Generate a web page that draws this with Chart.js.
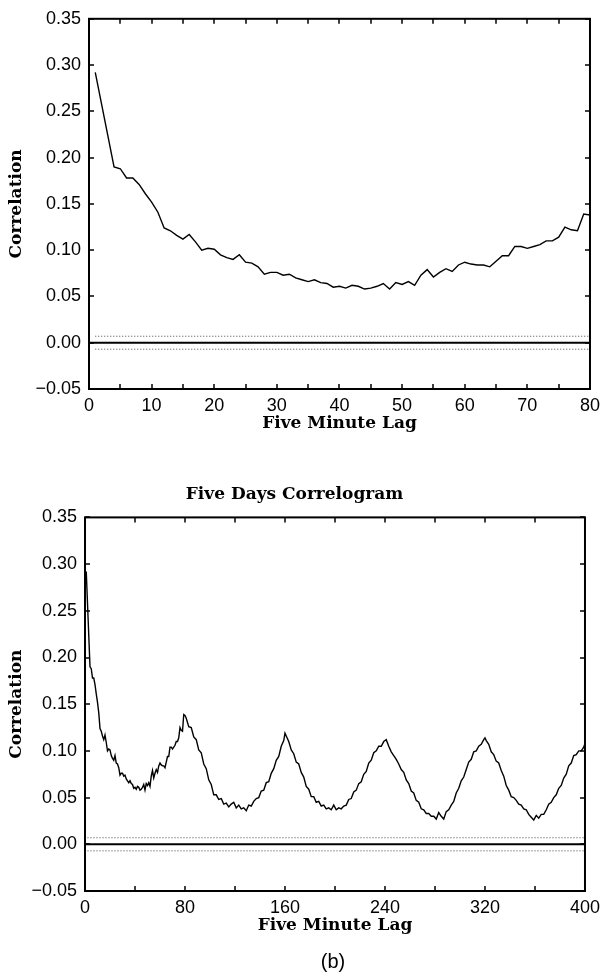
<!DOCTYPE html>
<html>
<head>
<meta charset="utf-8">
<script src="https://cdn.jsdelivr.net/npm/chart.js@4.4.0/dist/chart.umd.min.js"></script>
<style>
  body { margin: 0; background: #fff; width: 606px; height: 975px; position: relative; overflow: hidden; }
  #chartA { position: absolute; left: 0; top: 0; }
  #chartB { position: absolute; left: 0; top: 460px; }
  #panel { position: absolute; left: 30px; top: 950px; width: 606px; text-align: center;
           font: 20px "Liberation Sans", Arial, sans-serif; color: #000; }
</style>
</head>
<body>
<canvas id="chartA" width="606" height="445"></canvas>
<canvas id="chartB" width="606" height="515"></canvas>
<div id="panel">(b)</div>
<script>
// correlation at five minute lags 1..80
const corrFirst80 = [0.292, 0.258, 0.224, 0.190, 0.188, 0.178, 0.178, 0.171, 0.161, 0.152,
  0.141, 0.124, 0.121, 0.116, 0.112, 0.117, 0.109, 0.100, 0.102, 0.101,
  0.095, 0.092, 0.090, 0.095, 0.087, 0.086, 0.082, 0.074, 0.076, 0.076,
  0.073, 0.074, 0.070, 0.068, 0.066, 0.068, 0.065, 0.064, 0.060, 0.061,
  0.059, 0.062, 0.061, 0.058, 0.059, 0.061, 0.064, 0.058, 0.065, 0.063,
  0.066, 0.062, 0.073, 0.079, 0.071, 0.076, 0.080, 0.077, 0.084, 0.087,
  0.085, 0.084, 0.084, 0.082, 0.088, 0.094, 0.094, 0.104, 0.104, 0.102,
  0.104, 0.106, 0.110, 0.110, 0.114, 0.125, 0.122, 0.121, 0.139, 0.138];
const lagFirst80 = corrFirst80.map((v, i) => i + 1);

// lags 81..400 for the five days correlogram
const lagTail = [81, 83, 85, 87, 89, 91, 93, 95, 97, 99, 101, 103, 105, 107, 109, 111, 113, 115, 117, 119,
  121, 123, 125, 127, 129, 131, 133, 135, 137, 139, 141, 143, 145, 147, 149, 151, 153, 155, 157, 159, 160,
  161, 163, 165, 167, 169, 171, 173, 175, 177, 179, 181, 183, 185, 187, 189, 191, 193, 195, 197, 199,
  201, 203, 205, 207, 209, 211, 213, 215, 217, 219, 221, 223, 225, 227, 229, 231, 233, 235, 237, 239, 241,
  243, 245, 247, 249, 251, 253, 255, 257, 259, 261, 263, 265, 267, 269, 271, 273, 275, 277, 279,
  281, 283, 285, 287, 289, 291, 293, 295, 297, 299, 301, 303, 305, 307, 309, 311, 313, 315, 317, 319, 320,
  321, 323, 325, 327, 329, 331, 333, 335, 337, 339, 341, 343, 345, 347, 349, 351, 353, 355, 357, 359,
  361, 363, 365, 367, 369, 371, 373, 375, 377, 379, 381, 383, 385, 387, 389, 391, 393, 395, 397, 399, 400];
const corrTail = [0.135, 0.126, 0.125, 0.115, 0.112, 0.101, 0.098, 0.086, 0.081, 0.069, 0.064, 0.053, 0.053, 0.048, 0.049, 0.043, 0.044, 0.040, 0.043, 0.045,
  0.039, 0.042, 0.038, 0.039, 0.036, 0.042, 0.041, 0.046, 0.049, 0.050, 0.057, 0.058, 0.066, 0.067, 0.076, 0.081, 0.090, 0.094, 0.105, 0.111, 0.119,
  0.116, 0.110, 0.101, 0.097, 0.088, 0.086, 0.077, 0.072, 0.062, 0.059, 0.051, 0.051, 0.045, 0.046, 0.041, 0.042, 0.038, 0.039, 0.037, 0.042,
  0.037, 0.039, 0.038, 0.041, 0.042, 0.048, 0.049, 0.056, 0.058, 0.065, 0.067, 0.075, 0.078, 0.087, 0.090, 0.098, 0.100, 0.105, 0.105, 0.110, 0.112,
  0.105, 0.099, 0.095, 0.091, 0.086, 0.080, 0.077, 0.069, 0.065, 0.057, 0.055, 0.047, 0.045, 0.038, 0.037, 0.033, 0.033, 0.030, 0.030,
  0.027, 0.034, 0.030, 0.027, 0.035, 0.037, 0.042, 0.046, 0.055, 0.060, 0.068, 0.072, 0.080, 0.088, 0.091, 0.099, 0.100, 0.105, 0.107, 0.112, 0.114,
  0.111, 0.107, 0.099, 0.096, 0.089, 0.087, 0.079, 0.073, 0.063, 0.058, 0.051, 0.050, 0.047, 0.043, 0.042, 0.038, 0.037, 0.032, 0.029, 0.026,
  0.031, 0.028, 0.032, 0.032, 0.037, 0.043, 0.045, 0.050, 0.053, 0.060, 0.063, 0.071, 0.075, 0.084, 0.087, 0.095, 0.096, 0.100, 0.100, 0.104, 0.108];

const bandLimit = 0.007;   // dotted significance band
const yMin = -0.05, yMax = 0.35, yStep = 0.05;

const tickFont = { family: '"Liberation Sans", Arial, sans-serif', size: 18 };
const titleFont = { family: '"DejaVu Serif", serif', size: 17, weight: 'bold' };

function pts(xs, ys) { return xs.map((x, i) => ({ x: x, y: ys[i] })); }

function fmtTick(v) {
  if (Math.abs(v) < 1e-9) return '0.00';
  return v < 0 ? '\u2212' + Math.abs(v).toFixed(2) : v.toFixed(2);
}

// inward tick marks on all four sides plus the box
const frameTicks = {
  id: 'frameTicks',
  afterDatasetsDraw(chart, args, opts) {
    const { ctx, chartArea: a, scales: { x, y } } = chart;
    ctx.save();
    ctx.strokeStyle = '#000';
    ctx.lineWidth = 1.5;
    ctx.beginPath();
    for (let v = x.min; v <= x.max; v += opts.xStep) {
      const px = Math.round(x.getPixelForValue(v));
      ctx.moveTo(px, a.bottom); ctx.lineTo(px, a.bottom - 5);
      ctx.moveTo(px, a.top); ctx.lineTo(px, a.top + 5);
    }
    y.ticks.forEach(t => {
      const py = Math.round(y.getPixelForValue(t.value));
      ctx.moveTo(a.left, py); ctx.lineTo(a.left + 5, py);
      ctx.moveTo(a.right, py); ctx.lineTo(a.right - 5, py);
    });
    ctx.stroke();
    ctx.lineWidth = 2;
    ctx.strokeRect(a.left, a.top, a.right - a.left, a.bottom - a.top);
    ctx.restore();
  }
};

function makeChart(id, cfg) {
  const xMax = cfg.xMax;
  return new Chart(document.getElementById(id), {
    type: 'line',
    data: {
      datasets: [
        { data: cfg.series, borderColor: '#000', borderWidth: 1.4, pointRadius: 0, tension: 0 },
        { data: pts([0, xMax], [0, 0]), borderColor: '#000', borderWidth: 2, pointRadius: 0 },
        { data: pts([cfg.bandStart, xMax], [bandLimit, bandLimit]), borderColor: '#444', borderWidth: 1, borderDash: [1, 2], pointRadius: 0 },
        { data: pts([cfg.bandStart, xMax], [-bandLimit, -bandLimit]), borderColor: '#444', borderWidth: 1, borderDash: [1, 2], pointRadius: 0 }
      ]
    },
    options: {
      responsive: false,
      animation: false,
      events: [],
      layout: { padding: cfg.padding },
      plugins: {
        legend: { display: false },
        tooltip: { enabled: false },
        title: cfg.title ? { display: true, text: cfg.title, color: '#000', font: titleFont, padding: { top: 4, bottom: 13 } } : { display: false },
        frameTicks: { xStep: cfg.minorStep }
      },
      scales: {
        x: {
          type: 'linear', min: 0, max: xMax,
          grid: { display: false, drawTicks: false },
          border: { display: false },
          ticks: { stepSize: cfg.majorStep, color: '#000', font: tickFont, padding: 6, maxRotation: 0 },
          title: { display: true, text: 'Five Minute Lag', color: '#000', font: titleFont, padding: { top: 0, bottom: 5 } },
          afterFit(s) { s.height = 50; }
        },
        y: {
          min: yMin, max: yMax,
          grid: { display: false, drawTicks: false },
          border: { display: false },
          ticks: { stepSize: yStep, color: '#000', font: tickFont, padding: 8, callback: fmtTick },
          title: { display: true, text: 'Correlation', color: '#000', font: titleFont, padding: { top: 6, bottom: 0 } },
          afterFit(s) { s.width = cfg.yWidth; }
        }
      }
    },
    plugins: [frameTicks]
  });
}

makeChart('chartA', {
  series: pts(lagFirst80, corrFirst80),
  xMax: 80, majorStep: 10, minorStep: 5, bandStart: 1,
  yWidth: 89,
  padding: { top: 17, right: 11, bottom: 6, left: 0 }
});

makeChart('chartB', {
  series: pts(lagFirst80.concat(lagTail), corrFirst80.concat(corrTail)),
  xMax: 400, majorStep: 80, minorStep: 40, bandStart: 2,
  yWidth: 85,
  title: 'Five Days Correlogram',
  padding: { top: 20, right: 17, bottom: 34, left: 0 }
});
</script>
</body>
</html>
